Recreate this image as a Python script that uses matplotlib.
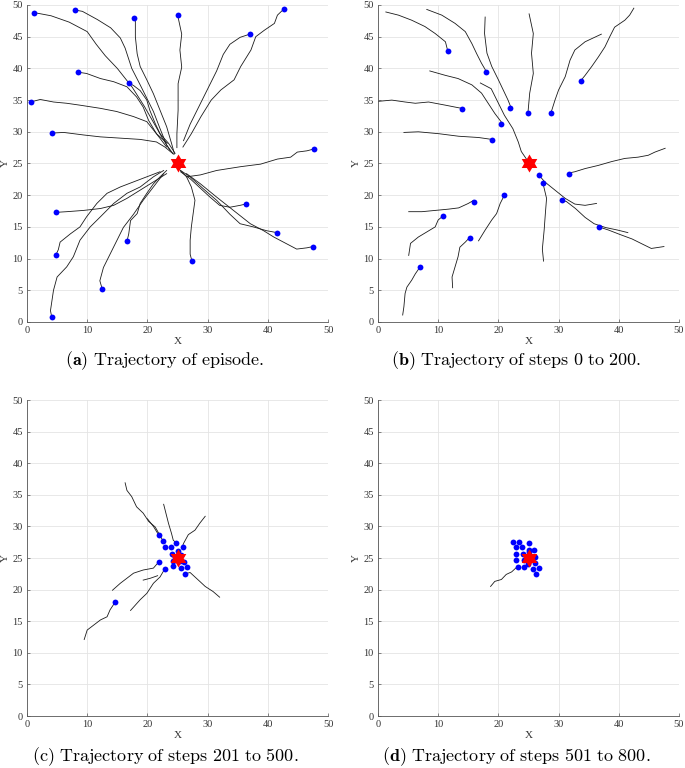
"""Swarm trajectories: full episode and three step windows"""
import numpy as np
import matplotlib
matplotlib.use("Agg")
import matplotlib.pyplot as plt
from matplotlib.path import Path

plt.rcParams['mathtext.fontset'] = 'cm'

TARGET = (25.0, 25.0)

# ---- (a) whole episode: start position -> target ----
traj_a = [
    [(1.2,48.8),(4,48.3),(7,47.3),(10,45.8),(11.5,43.8),(13,42),(15,40),(17.5,37),(19.5,34),(21,31.5),(22.5,29),(23.8,27)],
    [(8,49.2),(9.2,49),(11.7,47.7),(13.9,46.4),(15.5,44.8),(16.3,43.2),(17.4,40),(18.8,37.4),(19.9,35.3),(21,33.2),(22.1,30.5),(23.2,27.9),(24.3,26.5)],
    [(17.8,48),(18,47.6),(18,45),(18.3,42.3),(18.8,40.3),(19.9,38.2),(21,36),(22.1,33.4),(23.2,30.8),(24,28.2),(24.5,26.5)],
    [(25,48.5),(25.7,45.4),(25.4,42.9),(25.7,40.2),(25.1,37.6),(25.1,33.4),(24.9,29.7),(24.9,27.5)],
    [(42.7,49.4),(41.6,48.4),(41.1,47.1),(39.4,46),(38,45),(37.2,42.9),(35.5,40.3),(34.4,38.2),(32.2,36.6),(30.6,35),(28.9,32.4),(27.3,29.7),(25.9,27.6)],
    [(37,45.4),(35.4,44.9),(33.7,43.8),(32.6,42.2),(31.5,39.6),(30.4,37.5),(29.3,35.4),(28.2,33.3),(27.1,31.2),(26,28.6)],
    [(8.5,39.4),(9.9,39.2),(12.2,38.4),(14.4,37.9),(16.6,37.1),(18.2,35.5),(19.3,33.9),(20.2,31.8),(21.5,29.7),(23.2,27.6)],
    [(16.9,37.7),(17.7,37.3),(18.8,36.5),(19.9,35),(20.4,33.4),(21.3,31.3),(22.1,29.7),(23.5,28.2),(24.6,26.6)],
    [(0.6,34.7),(2.2,35.1),(4.4,34.7),(6.6,34.5),(8.8,34.2),(12.2,33.7),(14.9,33.2),(17.7,32.4),(19.9,31.6),(21.5,29.7),(23.3,28.2)],
    [(4.2,29.8),(6.1,29.9),(9.4,29.5),(12.2,29.2),(15.5,29),(18.8,28.8),(21.5,28.4),(22.9,27.6),(24.3,26.5)],
    [(47.7,27.3),(46.5,27),(44.9,26.8),(43.8,26),(41.6,25.7),(38.8,24.9),(35.5,24.5),(31.5,23.9),(28.8,23.2),(26.5,22.9)],
    [(36.3,18.6),(35.4,18.4),(33.7,18.1),(32,18.4),(30.4,19.7),(28.8,21.1),(27.1,22.6),(25.5,23.7)],
    [(41.5,14.1),(39.8,14.4),(37.6,15),(35.4,15.5),(33.7,17),(31.5,19.2),(29.3,21),(27.1,22.9),(25.5,23.9)],
    [(47.5,11.9),(46.5,11.7),(44.8,11.5),(43.2,12.3),(41,13.4),(39.3,14.4),(37.1,15.5),(34.3,17.6),(31.5,19.7),(28.8,21.8),(26.5,23.4)],
    [(27.4,9.6),(27.1,10.7),(27.1,12.9),(27.3,15),(27.6,17.1),(27.9,19.2),(27.3,21.3),(26.5,22.9),(25.5,23.9)],
    [(4.9,17.3),(6.6,17.4),(9.4,17.6),(12.2,17.9),(14.4,18.4),(16.6,19.5),(18.8,20.8),(21,22.1),(23.2,23.4)],
    [(4.8,10.6),(5.2,11.4),(5.5,12.6),(7.2,13.9),(8.8,15),(9.9,16.6),(11.6,18.7),(13.3,20.3),(15.5,21.3),(17.7,22.1),(19.9,22.9),(22.1,23.7)],
    [(4.1,0.8),(3.9,1.8),(4.4,5),(5,7.1),(6.6,8.7),(7.7,10.3),(8.8,12.9),(10.5,15),(12.2,16.6),(14.4,18.7),(16.6,20.3),(18.8,21.3),(21,22.9),(22.7,23.9)],
    [(12.5,5.2),(12.1,6.5),(12.7,8.6),(13.8,10.7),(14.9,12.8),(16,14.9),(17.7,17),(19.3,19.2),(21,21.3),(22.7,23.4)],
    [(16.6,12.7),(16.9,13.9),(17.2,16),(18.3,17.1),(18.8,18.7),(19.9,20.3),(21,21.8),(22.1,22.9),(23.2,23.9)],
]
dots_a_x = [1.2, 8.0, 17.8, 25.0, 42.7, 37.0, 8.5, 16.9, 0.6, 4.2, 47.7, 36.3, 41.5, 47.5, 27.4, 4.9, 4.8, 4.1, 12.5, 16.6]
dots_a_y = [48.8, 49.2, 48.0, 48.5, 49.4, 45.4, 39.4, 37.7, 34.7, 29.8, 27.3, 18.6, 14.1, 11.9, 9.6, 17.3, 10.6, 0.8, 5.2, 12.7]

# ---- (b) steps 0-200 ----
traj_b = [
    [(1.3,48.9),(3.4,48.4),(5.6,47.6),(7.8,46.6),(9.5,45.5),(11.2,44.2),(11.6,42.7)],
    [(8.1,49.3),(10.6,48.4),(12.8,47.1),(14.5,45.8),(15.6,43.9),(16.4,42.3),(17.2,40.8),(18,39.5)],
    [(17.8,48.1),(17.7,45.5),(18.1,42.4),(18.9,40.3),(20,38.2),(20.8,36.6),(21.6,35),(22.1,33.8)],
    [(25.1,48.6),(25.8,45.5),(25.5,42.4),(25.8,39.2),(25.2,36.1),(24.9,32.9)],
    [(42.5,49.5),(41.8,48.4),(41,47.6),(39.3,46.5),(38.5,45),(37.7,43.4),(36.6,41.8),(35.5,40.3),(34.4,38.9),(33.8,38.2)],
    [(37.1,45.4),(34.4,44.2),(32.7,42.9),(31.9,41.3),(31.1,38.7),(30,36.6),(29.4,35),(28.7,32.9)],
    [(8.6,39.6),(11.2,38.9),(13.3,38.4),(15.6,37.4),(17.2,36.1),(18.3,34.5),(19.4,32.9),(20.6,31.4)],
    [(17,37.7),(18.8,36.8),(19.9,34.7),(21,32.6),(22.4,30.5),(23.3,28.4),(23.8,26.9),(24.8,25.5)],
    [(0,34.8),(2.3,35),(4.5,34.7),(6.2,34.5),(8.4,34.7),(11.2,34.2),(12.8,33.9),(13.9,33.7)],
    [(4.3,29.9),(6.7,30),(10.1,29.7),(13.4,29.3),(16.7,29.1),(18.9,28.8)],
    [(47.7,27.4),(46,26.8),(44.9,26.3),(43.2,26),(41,25.8),(38.8,25.3),(36.6,24.7),(34.4,24.2),(32.7,23.7),(31.7,23.5)],
    [(36.3,18.7),(34.4,18.4),(32.7,18.6),(31.1,19.5),(29.4,20.8),(27.7,22.1),(26.7,23.2)],
    [(41.5,14.1),(39.8,14.5),(37.8,14.9),(35.9,15.5),(34.4,16.5),(32.8,17.9),(31.3,19.0),(30.6,19.2)],
    [(47.5,11.9),(45.4,11.6),(43.9,12.3),(42.2,13.1),(40.2,13.8),(38.3,14.5),(36.7,15)],
    [(27.5,9.6),(27.3,11.5),(27.6,14.5),(27.8,17.1),(28,19.5),(27.4,21.9)],
    [(5.1,17.4),(7.3,17.4),(9.5,17.6),(11.7,17.8),(13.4,18),(15,18.7),(15.9,19.2)],
    [(5.1,10.5),(5.4,12.4),(6.7,13.4),(8.1,14.2),(9.5,15),(10,16.1),(10.9,16.8)],
    [(4.1,1.1),(4.3,2.4),(4.5,4.5),(4.8,5.5),(5.6,6.6),(6.2,7.6),(7,8.7)],
    [(12.4,5.4),(12.3,7.1),(12.8,8.7),(13.3,10.3),(13.6,11.8),(14.5,12.6),(15.3,13.4)],
    [(16.7,12.8),(17.8,14.5),(18.9,16.1),(19.7,17.1),(20.3,18.7),(21.1,20.2)],
]
dots_b_x = [11.6, 18.0, 22.0, 24.9, 28.7, 33.8, 20.5, 13.9, 18.9, 31.7, 26.7, 27.4, 30.6, 36.7, 15.9, 10.8, 6.9, 15.2, 21.0, 25.0]
dots_b_y = [42.7, 39.4, 33.7, 32.9, 32.9, 38.0, 31.3, 33.6, 28.7, 23.4, 23.2, 21.9, 19.2, 15.0, 18.9, 16.7, 8.6, 13.3, 20.1, 25.0]

# ---- (c) steps 201-500 ----
traj_c = [
    [(16.3,36.9),(16.6,35.7),(17.4,34.7),(18.2,33.1),(19.3,32.1),(20.2,30.8),(21.3,29.9),(22.6,27.7)],
    [(20.0,31.2),(21.0,30.0),(21.9,28.6)],
    [(22.7,33.5),(23.1,32),(23.5,30.5),(24,28.9),(24.3,27.8),(24.8,27.4)],
    [(29.6,31.6),(28.7,30.5),(27.9,29.4),(26.8,28.7),(26,27.3),(25.8,26.8)],
    [(9.5,12.1),(10,13.6),(11.1,14.4),(12.2,15.2),(13.3,15.7),(13.8,16.8),(14.7,18.1)],
    [(14.2,19.9),(15.5,21),(16.6,21.8),(17.7,22.6),(19.3,23.1),(21,23.4),(21.9,24.4)],
    [(17.2,16.7),(18.8,18.4),(19.9,19.4),(21,21),(22.1,22),(22.9,23.3)],
    [(19.3,21.5),(20.5,21.8),(21.7,22.2)],
    [(32,18.8),(30.9,19.7),(29.6,20.5),(28.7,21.3),(27.9,22),(27.1,22.7),(26.2,22.5)],
]
dots_c_x = [21.9, 22.6, 23.0, 24.0, 24.8, 25.9, 24.1, 25.0, 21.9, 24.2, 24.2, 23.0, 25.6, 26.6, 26.2, 26.0, 14.7, 25.6, 24.6, 25.4]
dots_c_y = [28.6, 27.7, 26.7, 26.8, 27.4, 26.8, 25.7, 26.1, 24.4, 24.6, 23.7, 23.2, 23.4, 23.5, 22.5, 24.3, 18.1, 25.4, 25.2, 24.6]

# ---- (d) steps 501-800 ----
traj_d = [
    [(18.7,20.5),(19.4,21.3),(20.5,21.6),(21.3,22.4),(22.2,22.8),(23.1,23.6)],
]
dots_d_x = [22.4, 23.4, 23.0, 24.0, 25.0, 25.9, 22.9, 24.1, 23.0, 24.2, 23.3, 24.2, 25.1, 26.1, 26.0, 25.7, 26.8, 26.3, 25.0, 24.9]
dots_d_y = [27.6, 27.6, 26.7, 26.7, 27.4, 26.3, 25.7, 25.7, 24.7, 24.7, 23.6, 23.6, 25.9, 25.2, 24.2, 23.3, 23.4, 22.5, 26.3, 24.0]

captions = [
    r"$\mathbf{(a)}\ \mathrm{Trajectory\ of\ episode.}$",
    r"$\mathbf{(b)}\ \mathrm{Trajectory\ of\ steps\ 0\ to\ 200.}$",
    r"$\mathrm{(c)\ Trajectory\ of\ steps\ 201\ to\ 500.}$",
    r"$\mathbf{(d)}\ \mathrm{Trajectory\ of\ steps\ 501\ to\ 800.}$",
]

hexagram = Path.unit_regular_star(6, 1 / np.sqrt(3))

W, H = 685, 768
fig = plt.figure(figsize=(W / 100, H / 100), dpi=100)
# axes boxes in pixels: left, top, right, bottom
boxes = [(27, 5, 328, 322), (378, 5, 679, 322), (27, 400, 328, 716), (378, 400, 679, 716)]
cap_pos = [(165, 361), (516, 361), (165, 757), (516, 757)]
panels = [
    (traj_a, dots_a_x, dots_a_y),
    (traj_b, dots_b_x, dots_b_y),
    (traj_c, dots_c_x, dots_c_y),
    (traj_d, dots_d_x, dots_d_y),
]

for (l, t, r, b), (trajs, dx, dy), cap, (cx, cy) in zip(boxes, panels, captions, cap_pos):
    ax = fig.add_axes([l / W, 1 - b / H, (r - l) / W, (b - t) / H])
    for tr in trajs:
        xy = np.array(tr)
        ax.plot(xy[:, 0], xy[:, 1], color='#1a1a1a', lw=0.6, zorder=2)
    ax.plot(dx, dy, 'o', color='#0000ff', ms=4.2, mec='none', zorder=3)
    ax.plot(*TARGET, marker=hexagram, color='#ff0000', ms=13, mec='none', zorder=4)

    ax.set_xlim(0, 50)
    ax.set_ylim(0, 50)
    ax.set_xticks(np.arange(0, 51, 10))
    ax.set_yticks(np.arange(0, 51, 5))
    ax.grid(True, color='#e4e4e4', lw=0.6, zorder=0)
    ax.set_axisbelow(True)
    for s in ['top', 'right']:
        ax.spines[s].set_visible(False)
    for s in ['left', 'bottom']:
        ax.spines[s].set_color('#555555')
        ax.spines[s].set_linewidth(0.6)
    ax.tick_params(direction='in', length=2.5, width=0.5, color='#555555',
                   labelsize=7.5, labelcolor='#333333', pad=3)
    for lab in ax.get_xticklabels() + ax.get_yticklabels():
        lab.set_family('Liberation Serif')
    ax.set_xlabel('X', family='Liberation Serif', fontsize=8, color='#333333', labelpad=1)
    ax.set_ylabel('Y', family='Liberation Serif', fontsize=8, color='#333333', labelpad=2)
    fig.text(cx / W, 1 - cy / H, cap, ha='center', va='center', fontsize=13)

fig.savefig('out.png', dpi=100)
plt.close(fig)
